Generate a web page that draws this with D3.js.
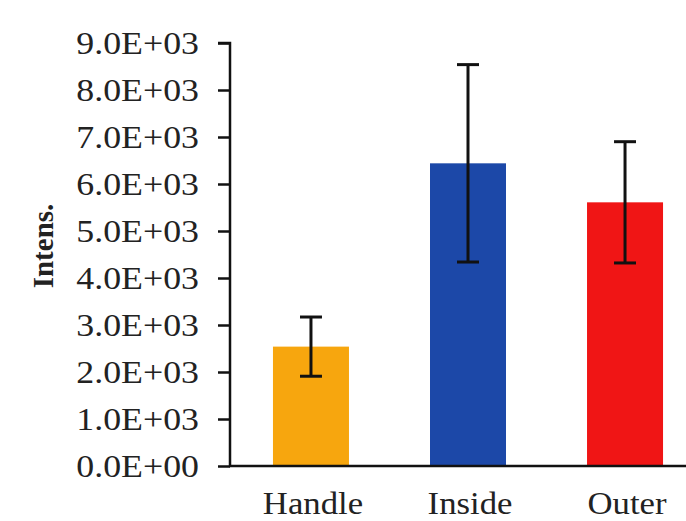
<!DOCTYPE html>
<html>
<head>
<meta charset="utf-8">
<script src="https://cdn.jsdelivr.net/npm/d3@7"></script>
<style>
  body { margin: 0; background: #fff; }
  text { font-family: "Liberation Serif", "Times New Roman", serif; fill: #222; }
</style>
</head>
<body>
<div id="chart"></div>
<script>
// datos
const categories = ["Handle", "Inside", "Outer"];
const means = [2540, 6440, 5610];
const errors = [630, 2100, 1290];
const colors = ["#F7A60E", "#1C48A8", "#F01515"];
const yTicks = [0, 1000, 2000, 3000, 4000, 5000, 6000, 7000, 8000, 9000];

const width = 686;
const height = 521;

const svg = d3.select("#chart")
    .append("svg")
    .attr("width", width)
    .attr("height", height);

const x = d3.scaleBand()
    .domain(categories)
    .range([229, 707])
    .paddingInner(0.516)
    .paddingOuter(0.28);

const y = d3.scaleLinear()
    .domain([0, 9000])
    .range([466, 43]);

const data = categories.map((c, i) => ({ cat: c, mean: means[i], err: errors[i], color: colors[i] }));

// barras
svg.append("g")
    .selectAll("rect")
    .data(data)
    .enter().append("rect")
    .attr("x", d => x(d.cat))
    .attr("y", d => y(d.mean))
    .attr("width", x.bandwidth())
    .attr("height", d => y(0) - y(d.mean))
    .attr("fill", d => d.color);

// barras de error
const eg = svg.append("g").attr("stroke", "#111").attr("stroke-width", 3);
data.forEach(function(d) {
    const cx = x(d.cat) + x.bandwidth() / 2;
    eg.append("line")
        .attr("x1", cx).attr("x2", cx)
        .attr("y1", y(d.mean + d.err)).attr("y2", y(d.mean - d.err));
    eg.append("line")
        .attr("x1", cx - 11).attr("x2", cx + 11)
        .attr("y1", y(d.mean + d.err)).attr("y2", y(d.mean + d.err));
    eg.append("line")
        .attr("x1", cx - 11).attr("x2", cx + 11)
        .attr("y1", y(d.mean - d.err)).attr("y2", y(d.mean - d.err));
});

// eje Y
const fmt = d => d3.format(".1e")(d).toUpperCase().replace(/E([+-])(\d)$/, "E$10$2");
const yAxis = svg.append("g")
    .attr("transform", "translate(230,0)")
    .call(d3.axisLeft(y)
        .tickValues(yTicks)
        .tickSize(12)
        .tickFormat(""));
yAxis.select(".domain").attr("stroke", "#111").attr("stroke-width", 2.5)
    .attr("d", "M-12," + y(9000) + "H0V" + y(0));
yAxis.selectAll(".tick line").attr("stroke", "#111").attr("stroke-width", 2.5);

// etiquetas del eje Y (algo estiradas en horizontal, como el original)
svg.append("g")
    .selectAll("text")
    .data(yTicks)
    .enter().append("text")
    .attr("transform", d => "translate(199," + (y(d) + 11) + ") scale(1.12,1)")
    .attr("text-anchor", "end")
    .attr("font-size", 32)
    .attr("fill", "#333")
    .text(fmt);

// eje X
svg.append("line")
    .attr("x1", 229).attr("x2", width)
    .attr("y1", y(0)).attr("y2", y(0))
    .attr("stroke", "#111").attr("stroke-width", 2.5);

svg.append("g")
    .selectAll("text")
    .data(categories)
    .enter().append("text")
    .attr("transform", d => "translate(" + (x(d) + x.bandwidth() / 2 + 2) + ",514) scale(1.12,1)")
    .attr("text-anchor", "middle")
    .attr("font-size", 31)
    .attr("fill", "#333")
    .text(d => d);

// título eje Y
svg.append("text")
    .attr("transform", "translate(53,246) rotate(-90)")
    .attr("text-anchor", "middle")
    .attr("font-size", 29)
    .attr("font-weight", "bold")
    .attr("fill", "#222")
    .text("Intens.");
</script>
</body>
</html>
